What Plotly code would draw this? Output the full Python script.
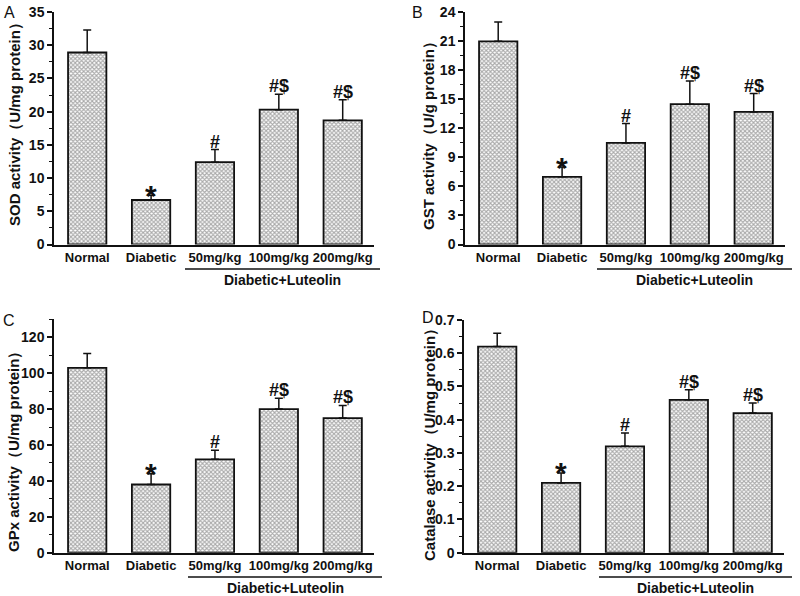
import plotly.graph_objects as go

W, H = 800, 596

categories = ["Normal", "Diabetic", "50mg/kg", "100mg/kg", "200mg/kg"]
group_label = "Diabetic+Luteolin"

sod_mean = [28.9, 6.7, 12.4, 20.3, 18.7]
sod_err = [3.4, 0.7, 1.9, 2.3, 3.1]
gst_mean = [21.0, 7.0, 10.5, 14.5, 13.7]
gst_err = [2.0, 1.0, 2.0, 2.4, 1.9]
gpx_mean = [103, 38, 52, 80, 75]
gpx_err = [8, 6, 5, 6, 7]
cat_mean = [0.62, 0.21, 0.32, 0.46, 0.42]
cat_err = [0.04, 0.03, 0.04, 0.03, 0.03]

marks = ["", "*", "#", "#$", "#$"]

panels = [
    dict(letter="A", mean=sod_mean, err=sod_err, title="SOD activity（U/mg protein）",
         yr=[0, 35], dt=5, x0=54, x1=374, top=12, bot=244.5, tx=15, ty=121,
         lx=9, ly=13, gx0=185, gx1=380, gline=269, gtext=280),
    dict(letter="B", mean=gst_mean, err=gst_err, title="GST activity（U/g protein）",
         yr=[0, 24], dt=3, x0=465, x1=785, top=12.3, bot=244.5, tx=428, ty=132,
         lx=417, ly=13, gx0=597, gx1=792, gline=269, gtext=280),
    dict(letter="C", mean=gpx_mean, err=gpx_err, title="GPx activity（U/mg protein）",
         yr=[0, 130], dt=20, x0=54, x1=374, top=319.3, bot=552.7, tx=13, ty=448,
         lx=9, ly=320, gx0=188, gx1=382, gline=577, gtext=588),
    dict(letter="D", mean=cat_mean, err=cat_err, title="Catalase activity（U/mg protein）",
         yr=[0, 0.7], dt=0.1, x0=464, x1=784, top=320, bot=552.7, tx=429, ty=441,
         lx=428, ly=317, gx0=599, gx1=792, gline=577, gtext=588),
]

FONT = "Liberation Sans, Arial, sans-serif"

fig = go.Figure()
annotations = []
shapes = []

for i, p in enumerate(panels):
    n = "" if i == 0 else str(i + 1)
    xa, ya = "x" + n, "y" + n
    xs = list(range(len(categories)))
    fig.add_trace(go.Bar(
        x=xs, y=p["mean"], width=0.6,
        marker=dict(color="white", line=dict(color="#111", width=1.8),
                    pattern=dict(shape="x", size=3, solidity=0.6, fgcolor="#555", bgcolor="white")),
        error_y=dict(type="data", array=p["err"], arrayminus=[0] * 5, symmetric=False,
                     color="#111", thickness=1.5, width=4),
        xaxis=xa, yaxis=ya, showlegend=False, hoverinfo="skip",
    ))
    fig.layout["xaxis" + n] = dict(
        domain=[p["x0"] / W, p["x1"] / W], anchor=ya, range=[-0.52, 4.49],
        tickmode="array", tickvals=xs, ticktext=["<b>%s</b>" % c for c in categories],
        tickangle=0, showline=True, linecolor="#111", linewidth=1.5, ticks="", ticklen=0,
        showgrid=False, zeroline=False, automargin=False,
        tickfont=dict(family=FONT, size=13, color="#111"), fixedrange=True,
    )
    fig.layout["yaxis" + n] = dict(
        domain=[1 - p["bot"] / H, 1 - p["top"] / H], anchor=xa, range=p["yr"],
        dtick=p["dt"], tick0=0, showline=True, linecolor="#111", linewidth=1.5,
        ticks="outside", ticklen=5, tickwidth=1.5, tickcolor="#111",
        minor=dict(ticks="outside", ticklen=3, tickwidth=1.2, tickcolor="#111", dtick=p["dt"] / 2),
        showgrid=False, zeroline=False, automargin=False, tickprefix="<b>", ticksuffix="</b>",
        tickfont=dict(family=FONT, size=14, color="#111"), fixedrange=True,
    )
    annotations.append(dict(
        x=p["tx"] / W, y=1 - p["ty"] / H, xref="paper", yref="paper", textangle=-90,
        text="<b>%s</b>" % p["title"], showarrow=False, xanchor="center", yanchor="middle",
        font=dict(family=FONT, size=15, color="#111")))
    annotations.append(dict(
        x=p["lx"] / W, y=1 - p["ly"] / H, xref="paper", yref="paper",
        text=p["letter"], showarrow=False, xanchor="center", yanchor="middle",
        font=dict(family=FONT, size=16, color="#111")))
    shapes.append(dict(type="line", xref="paper", yref="paper",
                       x0=p["gx0"] / W, x1=p["gx1"] / W, y0=1 - p["gline"] / H, y1=1 - p["gline"] / H,
                       line=dict(color="#111", width=1.3)))
    annotations.append(dict(
        x=(p["gx0"] + p["gx1"]) / 2 / W, y=1 - p["gtext"] / H, xref="paper", yref="paper",
        text="<b>%s</b>" % group_label, showarrow=False, xanchor="center", yanchor="middle",
        font=dict(family=FONT, size=14, color="#111")))
    for j, m in enumerate(marks):
        if not m:
            continue
        top = p["mean"][j] + p["err"][j]
        if m == "*":
            annotations.append(dict(x=j, y=top, xref=xa, yref=ya, text="<b>*</b>", showarrow=False,
                                    xanchor="center", yanchor="middle", yshift=0,
                                    font=dict(family=FONT, size=30, color="#111")))
        else:
            annotations.append(dict(x=j, y=top, xref=xa, yref=ya, text="<b>%s</b>" % m, showarrow=False,
                                    xanchor="center", yanchor="middle", yshift=8,
                                    font=dict(family=FONT, size=18, color="#111")))

fig.update_layout(
    width=W, height=H, margin=dict(l=0, r=0, t=0, b=0, autoexpand=False),
    paper_bgcolor="white", plot_bgcolor="white",
    annotations=annotations, shapes=shapes, bargap=0.4,
    font=dict(family=FONT, color="#111"),
)

fig.write_html("out.html", config={"displayModeBar": False},
               post_script="document.body.style.margin='0';")
